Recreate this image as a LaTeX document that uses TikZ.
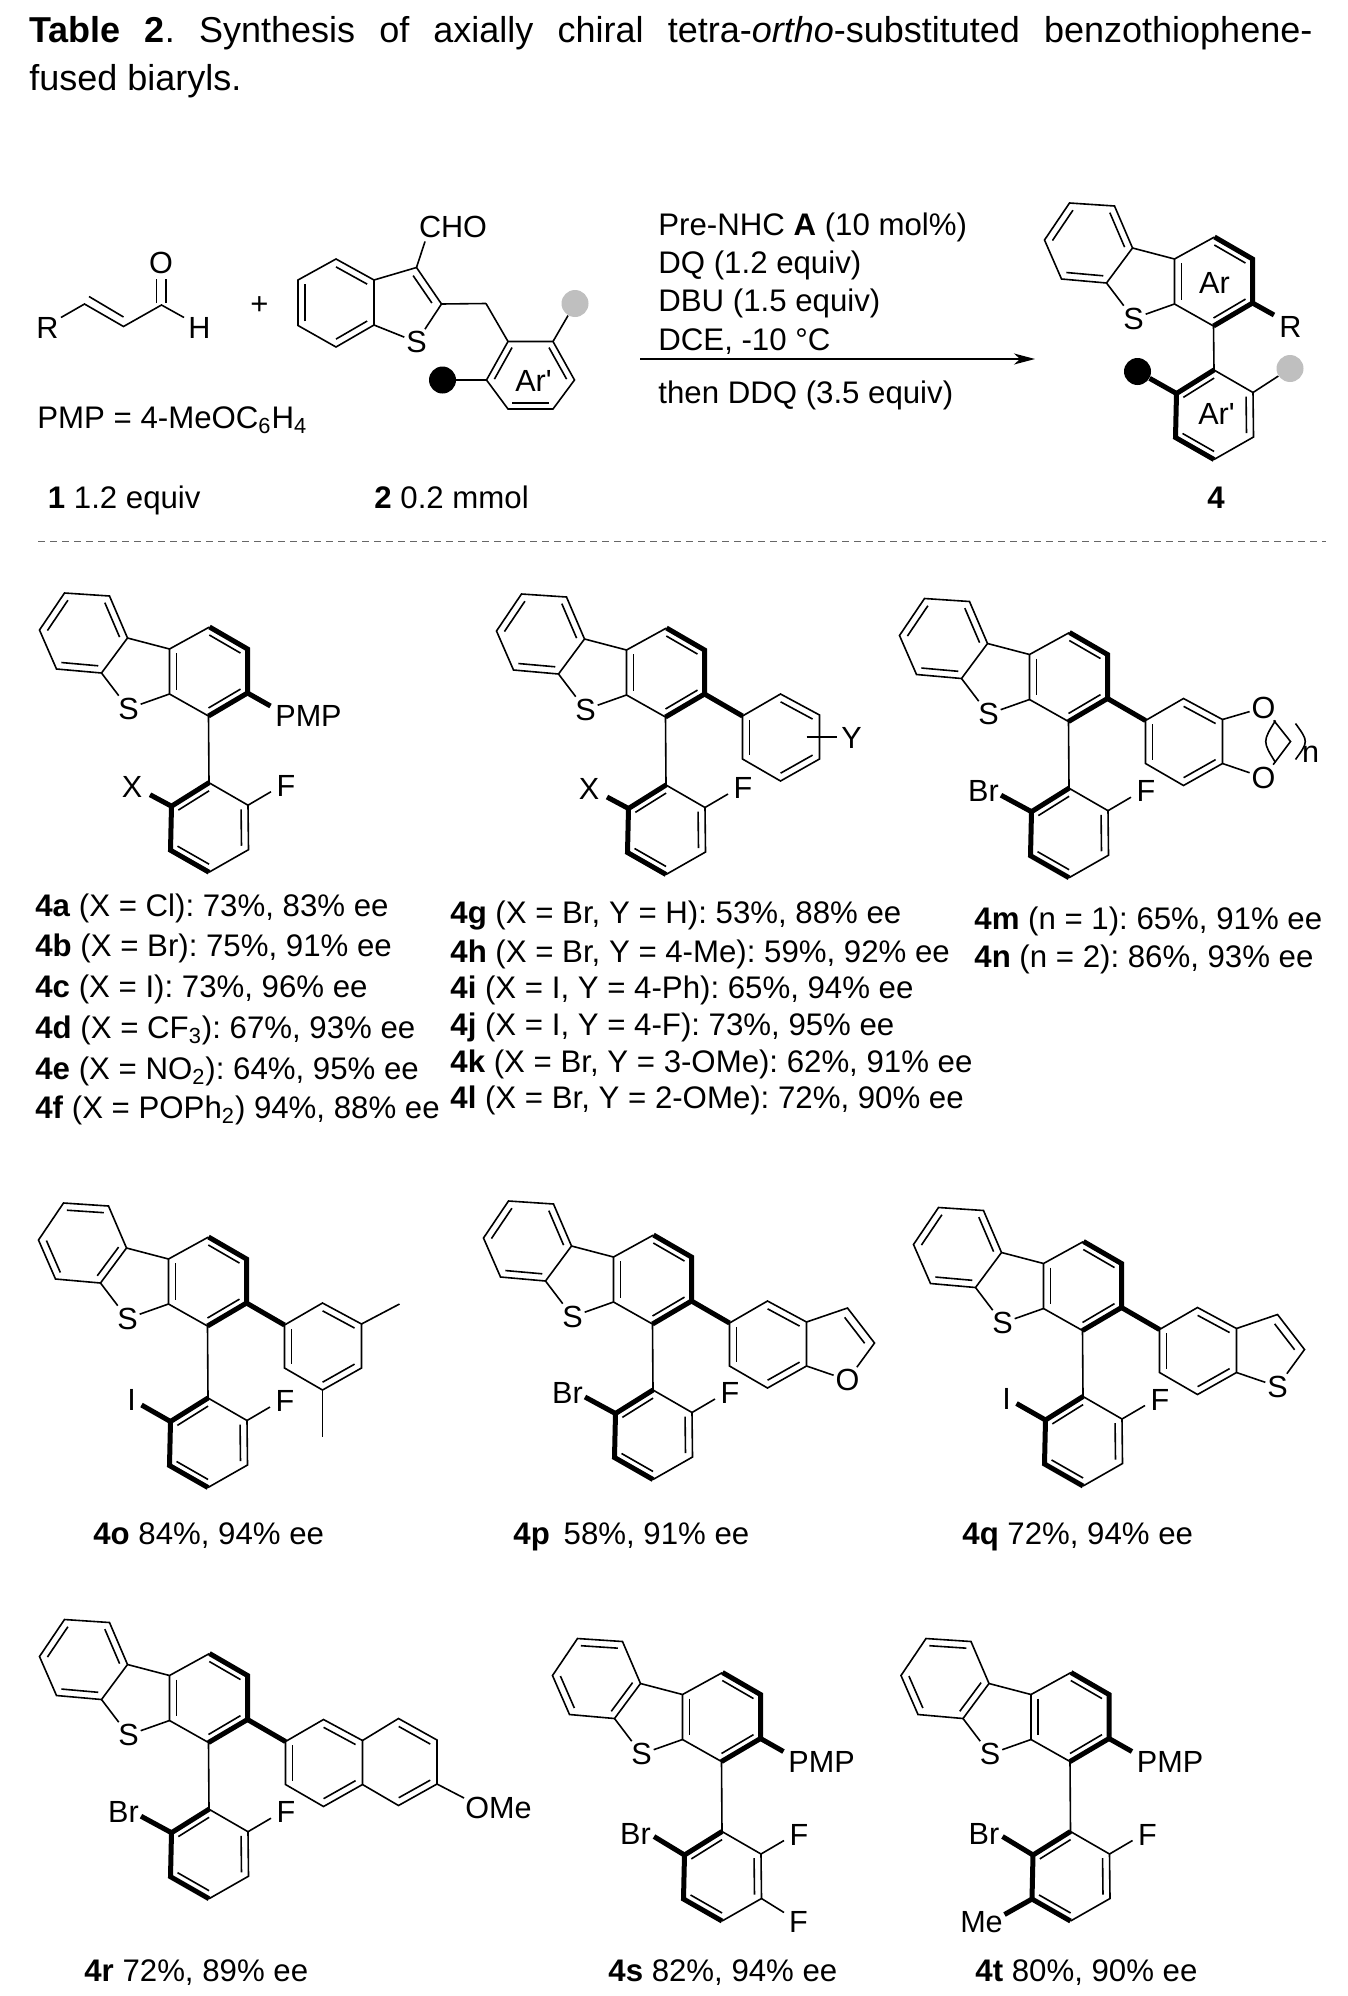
\documentclass[tikz,border=0pt]{standalone}
\usepackage{fontspec}
\setmainfont{Liberation Sans}
\usepackage{xcolor}
\usepackage{tikz}
\usetikzlibrary{arrows.meta}
\usetikzlibrary{calc}
\tikzset{
    thin_bond/.style = {line width=0.8pt, line cap=butt, line join=miter},
    bold_bond/.style = {line width=2.5pt, line cap=butt, line join=miter},
    atom/.style = {inner sep=0.8pt, font=\fontsize{15.3}{18}\selectfont},
    label_text/.style = {anchor=base west, inner sep=0pt, font=\fontsize{15.6}{18}\selectfont},
    black_dot/.style = {circle, fill=black, inner sep=0pt, minimum size=13.5pt},
    gray_dot/.style = {circle, fill=black!25, inner sep=0pt, minimum size=13.5pt},
    title_text/.style = {anchor=north west, inner sep=0pt, text width=641.5pt, align=justify, font=\fontsize{18}{24}\selectfont}
}
% short inner line of a double bond, pulled towards a ring centre
\newcommand{\innerbond}[4][0.18]{\draw[thin_bond] ($(#2)!#1!(#4)$) -- ($(#3)!#1!(#4)$);}
% common skeleton; origin at the upper biaryl carbon, #1 = extra length of the biaryl bond, #2 = benzo double bond set
\newcommand{\biaryl}[2]{
    \coordinate (a) at (-144,-123);
    \coordinate (b) at (-99,-120);
    \coordinate (c) at (-81,-78);
    \coordinate (d) at (-107,-43);
    \coordinate (e) at (-152,-47);
    \coordinate (f) at (-169,-86);
    \coordinate (bc) at (-125,-83);
    \coordinate (g) at (-39,-67);
    \coordinate (h) at (-39,-22);
    \coordinate (i) at (1,-89);
    \coordinate (j) at (39,-67);
    \coordinate (k) at (39,-23);
    \coordinate (l) at (0,0);
    \coordinate (ac) at (0,-44.5);
    \coordinate (m) at (0.5,#1);
    \coordinate (n) at ($(m)+(39,22.5)$);
    \coordinate (o) at ($(m)+(39.5,67)$);
    \coordinate (p) at ($(m)+(0,89.5)$);
    \coordinate (q) at ($(m)+(-38.5,67.5)$);
    \coordinate (r) at ($(m)+(-37.5,23.5)$);
    \coordinate (lc) at ($(m)+(0.5,45)$);
    \node [atom] (s_atom) at (-80,-7.5) {S};
    \draw [thin_bond] (a) -- (b) -- (c) -- (d) -- (e) -- (f) -- cycle;
    \draw [thin_bond] (c) -- (g) -- (i);
    \draw [thin_bond] (g) -- (h) -- (l) -- (m) -- (n) -- (o) -- (p);
    \draw [thin_bond] (d) -- (s_atom);
    \draw [thin_bond] (h) -- (s_atom);
    \draw [bold_bond] (i) -- (j) -- (k) -- (l);
    \draw [bold_bond] (m) -- (r) -- (q) -- (p);
    \ifnum#2=0
        \innerbond{a}{f}{bc}
        \innerbond{b}{c}{bc}
        \innerbond{d}{e}{bc}
    \else
        \innerbond{a}{b}{bc}
        \innerbond{c}{d}{bc}
        \innerbond{e}{f}{bc}
    \fi
    \innerbond{g}{h}{ac}
    \innerbond{i}{j}{ac}
    \innerbond{k}{l}{ac}
    \innerbond{m}{r}{lc}
    \innerbond{n}{o}{lc}
    \innerbond{p}{q}{lc}
}
% group on r: text, its place and the end of the bond, all from m
\newcommand{\orthogroup}[5]{
    \node [atom] (x_atom) at ($(m)+(#2,#3)$) {#1};
    \coordinate (x_end) at ($(m)+(#4,#5)$);
    \draw [bold_bond] (r) -- (x_end);
}
\newcommand{\fluoro}{
    \node [atom] (f_atom) at ($(m)+(77,3)$) {F};
    \coordinate (f_end) at ($(m)+(62,9)$);
    \draw [thin_bond] (n) -- (f_end);
}
\newcommand{\pmpgroup}{
    \node [atom] (pmp_atom) at (100,0) {PMP};
    \coordinate (pmp_end) at (62,-10);
    \draw [bold_bond] (k) -- (pmp_end);
}
% benzene ring on k
\newcommand{\arylring}{
    \coordinate (t0) at (77,-1);
    \coordinate (t1) at (115,-23);
    \coordinate (t2) at (154,-2);
    \coordinate (t3) at (154,42);
    \coordinate (t4) at (115,64);
    \coordinate (t5) at (77,42);
    \coordinate (tc) at (115.5,20.5);
    \draw [bold_bond] (k) -- (t0);
    \draw [thin_bond] (t0) -- (t1) -- (t2) -- (t3) -- (t4) -- (t5) -- cycle;
    \innerbond{t0}{t5}{tc}
    \innerbond{t1}{t2}{tc}
    \innerbond{t3}{t4}{tc}
}
% furan or thiophene fused on t2, t3
\newcommand{\heteroring}[1]{
    \coordinate (fa) at (195,-16);
    \coordinate (fb) at (222,19);
    \coordinate (fc) at (184,20);
    \node [atom] (het_atom) at (195,56) {#1};
    \draw [thin_bond] (t2) -- (fa) -- (fb) -- (het_atom);
    \draw [thin_bond] (t3) -- (het_atom);
    \innerbond[0.26]{fa}{fb}{fc}
}

\begin{document}
\frenchspacing
\begin{tikzpicture}[x=0.5pt, y=-0.5pt]
    \useasboundingbox (0,0) rectangle (1348,1996);

    \node [title_text] (title) at (29,16) {\textbf{Table 2}. Synthesis of axially chiral tetra-\textit{ortho}-substituted benzothiophene-\linebreak fused biaryls.};

    % enal 1
    \node [atom] (r_atom) at (47.5,328) {R};
    \node [atom] (o_atom) at (161,262.5) {O};
    \node [atom] (h_atom) at (199.5,328) {H};
    \coordinate (r_end) at (61,317.5);
    \coordinate (h_end) at (184,317.5);
    \coordinate (o_end1) at (156.5,278.5);
    \coordinate (o_end2) at (166,278.5);
    \coordinate (v1) at (84.5,304);
    \coordinate (v2) at (123.5,326.5);
    \coordinate (v3) at (161.5,305);
    \coordinate (vi1) at (89,296.5);
    \coordinate (vi2) at (123.5,317);
    \coordinate (v3a) at (156.5,303);
    \coordinate (v3b) at (166,303);
    \draw [thin_bond] (r_end) -- (v1) -- (v2) -- (v3) -- (h_end);
    \draw [thin_bond] (vi1) -- (vi2);
    \draw [thin_bond] (v3a) -- (o_end1);
    \draw [thin_bond] (v3b) -- (o_end2);
    \node [atom, font=\fontsize{15.5}{18}\selectfont] (plus) at (259.5,306) {+};

    % benzothiophene 2
    \coordinate (b1) at (336,259);
    \coordinate (b2) at (374,280);
    \coordinate (b3) at (374,325);
    \coordinate (b4) at (336,347);
    \coordinate (b5) at (298,325.5);
    \coordinate (b6) at (298,280);
    \coordinate (b_c) at (336,303);
    \coordinate (c3) at (416.5,267.5);
    \coordinate (c2) at (441.5,304);
    \coordinate (c_c) at (403,300);
    \coordinate (ch2) at (486,303.5);
    \node [atom] (cho_atom) at (453,227) {CHO};
    \coordinate (cho_end) at (425,241.5);
    \node [atom] (s2_atom) at (416.5,342) {S};
    \draw [thin_bond] (b1) -- (b2) -- (b3) -- (b4) -- (b5) -- (b6) -- cycle;
    \draw [thin_bond] (b2) -- (c3) -- (c2) -- (ch2);
    \draw [thin_bond] (c3) -- (cho_end);
    \draw [thin_bond] (b3) -- (s2_atom);
    \draw [thin_bond] (c2) -- (s2_atom);
    \innerbond{b1}{b2}{b_c}
    \innerbond{b3}{b4}{b_c}
    \innerbond{b5}{b6}{b_c}
    \innerbond[0.25]{c3}{c2}{c_c}

    % aryl of 2
    \coordinate (r1) at (508,341.5);
    \coordinate (r2) at (553,341.5);
    \coordinate (r3) at (574.5,380);
    \coordinate (r4) at (553,409);
    \coordinate (r5) at (508,409);
    \coordinate (r6) at (486.5,380);
    \coordinate (r_c) at (530.5,375);
    \draw [thin_bond] (r1) -- (r2) -- (r3) -- (r4) -- (r5) -- (r6) -- cycle;
    \draw [thin_bond] (ch2) -- (r1);
    \innerbond{r1}{r6}{r_c}
    \innerbond{r2}{r3}{r_c}
    \innerbond{r4}{r5}{r_c}
    \node [black_dot] (dot_b) at (442.5,380) {};
    \node [gray_dot] (dot_g) at (575,303.5) {};
    \draw [thin_bond] (r6) -- (dot_b);
    \draw [thin_bond] (r2) -- (dot_g);
    \node [atom] (ar2) at (533.5,381) {Ar\textquotesingle};

    \node [label_text] (pmp_def) at (37,428) {PMP = 4-MeOC\textsubscript{6}H\textsubscript{4}};
    \node [label_text] (lab1) at (47.5,508) {\textbf{1} 1.2 equiv};
    \node [label_text] (lab2) at (374,508) {\textbf{2} 0.2 mmol};

    % conditions
    \node [label_text] (cond1) at (658,235) {Pre-NHC \textbf{A} (10 mol\%)};
    \node [label_text] (cond2) at (658,273) {DQ (1.2 equiv)};
    \node [label_text] (cond3) at (658,311.5) {DBU (1.5 equiv)};
    \node [label_text] (cond4) at (658,350) {DCE, -10 °C};
    \node [label_text] (cond5) at (658,403) {then DDQ (3.5 equiv)};
    \coordinate (arrow_start) at (640,359);
    \coordinate (arrow_end) at (1035,359);
    \draw [thin_bond, -{Stealth[length=10.5pt, width=5.5pt, inset=3pt]}] (arrow_start) -- (arrow_end);

    % product 4
    \begin{scope}[shift={(1213.5,326)}]
        \biaryl{44}{0}
        \node [atom] (prod_r) at (77,1) {R};
        \coordinate (prod_r_end) at (60.5,-11);
        \draw [bold_bond] (k) -- (prod_r_end);
        \node [black_dot] (prod_dot_b) at (-76,45.5) {};
        \node [gray_dot] (prod_dot_g) at (76.5,42.5) {};
        \draw [bold_bond] (r) -- (prod_dot_b);
        \draw [thin_bond] (n) -- (prod_dot_g);
        \node [atom] (prod_ar) at (1,-43.5) {Ar};
        \node [atom] (prod_ar2) at (3,88) {Ar\textquotesingle};
    \end{scope}
    \node [label_text] (lab4) at (1207,508) {\textbf{4}};

    \coordinate (sep_start) at (38,541.5);
    \coordinate (sep_end) at (1326,541.5);
    \draw [line width=0.4pt, black!60, dash pattern=on 3.5pt off 2.5pt] (sep_start) -- (sep_end);

    % 4a-f
    \begin{scope}[shift={(208.5,716)}]
        \biaryl{66.7}{0}
        \pmpgroup
        \orthogroup{X}{-77}{4}{-59}{12}
        \fluoro
    \end{scope}
    \node [label_text] (y4a) at (35,916) {\textbf{4a} (X = Cl): 73\%, 83\% ee};
    \node [label_text] (y4b) at (35,956) {\textbf{4b} (X = Br): 75\%, 91\% ee};
    \node [label_text] (y4c) at (35,997) {\textbf{4c} (X = I): 73\%, 96\% ee};
    \node [label_text] (y4d) at (35,1038) {\textbf{4d} (X = CF\textsubscript{3}): 67\%, 93\% ee};
    \node [label_text] (y4e) at (35,1079) {\textbf{4e} (X = NO\textsubscript{2}): 64\%, 95\% ee};
    \node [label_text] (y4f) at (35,1118) {\textbf{4f} (X = POPh\textsubscript{2}) 94\%, 88\% ee};

    % 4g-l
    \begin{scope}[shift={(665.5,717)}]
        \biaryl{68}{0}
        \arylring
        \orthogroup{X}{-77}{4}{-59}{12}
        \fluoro
        \coordinate (y_start) at (141,20);
        \coordinate (y_end) at (171,20);
        \node [atom] (y_atom) at (186,21) {Y};
        \draw [thin_bond] (y_start) -- (y_end);
    \end{scope}
    \node [label_text] (y4g) at (450,923) {\textbf{4g} (X = Br, Y = H): 53\%, 88\% ee};
    \node [label_text] (y4h) at (450,962) {\textbf{4h} (X = Br, Y = 4-Me): 59\%, 92\% ee};
    \node [label_text] (y4i) at (450,998) {\textbf{4i} (X = I, Y = 4-Ph): 65\%, 94\% ee};
    \node [label_text] (y4j) at (450,1035) {\textbf{4j} (X = I, Y = 4-F): 73\%, 95\% ee};
    \node [label_text] (y4k) at (450,1072) {\textbf{4k} (X = Br, Y = 3-OMe): 62\%, 91\% ee};
    \node [label_text] (y4l) at (450,1108) {\textbf{4l} (X = Br, Y = 2-OMe): 72\%, 90\% ee};

    % 4m-n
    \begin{scope}[shift={(1068.5,721.5)}]
        \biaryl{66.7}{0}
        \arylring
        \orthogroup{Br}{-85.5}{2.5}{-68}{7}
        \fluoro
        \node [atom] (o_top) at (195,-14) {O};
        \node [atom] (o_bot) at (195,56) {O};
        \coordinate (ch2b) at (222,20);
        \draw [thin_bond] (t2) -- (o_top) -- (ch2b) -- (o_bot) -- (t3);
        \coordinate (pl_a) at (207,-1);
        \coordinate (pl_b) at (194,20);
        \coordinate (pl_c) at (207,41);
        \coordinate (pr_a) at (227,2);
        \coordinate (pr_b) at (240,20);
        \coordinate (pr_c) at (227,38);
        \draw [thin_bond] (pl_a) .. controls (pl_b) .. (pl_c);
        \draw [thin_bond] (pr_a) .. controls (pr_b) .. (pr_c);
        \node [atom] (n_label) at (242,33) {n};
    \end{scope}
    \node [label_text] (y4m) at (974,929) {\textbf{4m} (n = 1): 65\%, 91\% ee};
    \node [label_text] (y4n) at (974,967) {\textbf{4n} (n = 2): 86\%, 93\% ee};

    % 4o
    \begin{scope}[shift={(207.5,1326)}]
        \biaryl{72}{1}
        \arylring
        \orthogroup{I}{-76.5}{2}{-66.5}{7}
        \fluoro
        \coordinate (me1) at (192,-22);
        \coordinate (me2) at (115,111);
        \draw [thin_bond] (t2) -- (me1);
        \draw [thin_bond] (t4) -- (me2);
    \end{scope}
    \node [label_text] (y4o) at (93,1544) {\textbf{4o} 84\%, 94\% ee};

    % 4p
    \begin{scope}[shift={(652.5,1324)}]
        \biaryl{66}{0}
        \arylring
        \heteroring{O}
        \orthogroup{Br}{-85.5}{2.5}{-68}{7}
        \fluoro
    \end{scope}
    \node [label_text] (y4p) at (513,1544) {\textbf{4p}\, 58\%, 91\% ee};

    % 4q
    \begin{scope}[shift={(1082.5,1330.5)}]
        \biaryl{66}{0}
        \arylring
        \heteroring{S}
        \orthogroup{I}{-76.5}{2}{-66.5}{7}
        \fluoro
    \end{scope}
    \node [label_text] (y4q) at (962,1544) {\textbf{4q} 72\%, 94\% ee};

    % 4r
    \begin{scope}[shift={(208.5,1742.5)}]
        \biaryl{66.7}{0}
        \arylring
        \orthogroup{Br}{-85.5}{2.5}{-68}{7}
        \fluoro
        \coordinate (u1) at (190,-24);
        \coordinate (u2) at (228.5,-2.5);
        \coordinate (u3) at (228.5,41.5);
        \coordinate (u4) at (190,63);
        \coordinate (uc) at (191,20);
        \coordinate (ome_end) at (255.5,55.5);
        \node [atom] (ome_atom) at (290,65.5) {OMe};
        \draw [thin_bond] (t2) -- (u1) -- (u2) -- (u3) -- (u4) -- (t3);
        \draw [thin_bond] (u3) -- (ome_end);
        \innerbond{u1}{u2}{uc}
        \innerbond{u3}{u4}{uc}
    \end{scope}
    \node [label_text] (y4r) at (84,1981) {\textbf{4r} 72\%, 89\% ee};

    % 4s
    \begin{scope}[shift={(721.5,1761.5)}]
        \biaryl{70}{1}
        \pmpgroup
        \orthogroup{Br}{-86.5}{2}{-68}{5}
        \fluoro
        \node [atom] (f2_atom) at ($(m)+(76.5,90)$) {F};
        \coordinate (f2_end) at ($(m)+(62,81)$);
        \draw [thin_bond] (o) -- (f2_end);
    \end{scope}
    \node [label_text] (y4s) at (608,1981) {\textbf{4s} 82\%, 94\% ee};

    % 4t
    \begin{scope}[shift={(1070,1761.5)}]
        \biaryl{70}{1}
        \pmpgroup
        \orthogroup{Br}{-86.5}{2}{-68}{5}
        \fluoro
        \node [atom] (me_atom) at ($(m)+(-89,91)$) {Me};
        \coordinate (me_end) at ($(m)+(-66,83)$);
        \draw [bold_bond] (q) -- (me_end);
    \end{scope}
    \node [label_text] (y4t) at (975,1981) {\textbf{4t} 80\%, 90\% ee};
\end{tikzpicture}
\end{document}
